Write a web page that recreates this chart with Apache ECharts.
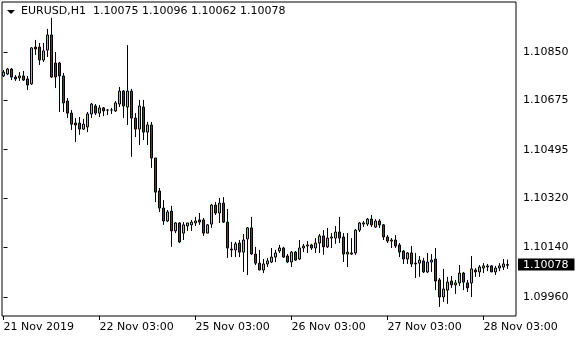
<!DOCTYPE html>
<html><head><meta charset="utf-8">
<script src="https://cdn.jsdelivr.net/npm/echarts@6/dist/echarts.min.js"></script>
<style>html,body{margin:0;padding:0;background:#fff}#c{width:580px;height:340px}</style>
</head><body><div id="c"></div>
<script>
const symbolName = 'EURUSD,H1';
const lastOHLC = ['1.10075', '1.10096', '1.10062', '1.10078'];
const lastPrice = 1.10078;

const opens = [1.10763,1.10770,1.10788,1.10759,1.10756,1.10763,1.10752,1.10734,1.10868,1.10868,
1.10821,1.10857,1.10912,1.10810,1.10810,1.10763,1.10672,1.10628,1.10592,1.10592,
1.10570,1.10578,1.10625,1.10654,1.10628,1.10647,1.10639,1.10639,1.10636,1.10661,
1.10708,1.10650,1.10708,1.10610,1.10570,1.10650,1.10559,1.10585,1.10465,1.10345,
1.10283,1.10236,1.10272,1.10200,1.10229,1.10192,1.10218,1.10222,1.10229,1.10240,
1.10240,1.10192,1.10225,1.10294,1.10265,1.10301,1.10232,1.10134,1.10131,1.10156,
1.10123,1.10171,1.10211,1.10116,1.10083,1.10058,1.10080,1.10087,1.10105,1.10127,
1.10138,1.10109,1.10087,1.10123,1.10098,1.10138,1.10145,1.10149,1.10138,1.10156,
1.10182,1.10142,1.10174,1.10174,1.10196,1.10178,1.10116,1.10116,1.10120,1.10203,
1.10225,1.10225,1.10243,1.10214,1.10236,1.10222,1.10178,1.10163,1.10167,1.10149,
1.10127,1.10098,1.10120,1.10083,1.10083,1.10091,1.10051,1.10087,1.10098,1.10022,
1.09960,1.09985,1.10018,1.10004,1.10011,1.10047,1.10011,1.10011,1.10058,1.10051,
1.10065,1.10069,1.10073,1.10051,1.10065,1.10069,1.10075];
const closes = [1.10777,1.10788,1.10759,1.10752,1.10763,1.10748,1.10730,1.10865,1.10861,1.10821,
1.10854,1.10912,1.10759,1.10759,1.10763,1.10665,1.10628,1.10588,1.10585,1.10570,
1.10588,1.10625,1.10661,1.10628,1.10647,1.10636,1.10639,1.10639,1.10665,1.10708,
1.10654,1.10708,1.10610,1.10570,1.10654,1.10559,1.10585,1.10465,1.10341,1.10283,
1.10236,1.10269,1.10200,1.10229,1.10160,1.10222,1.10229,1.10232,1.10236,1.10232,
1.10192,1.10222,1.10294,1.10265,1.10301,1.10232,1.10138,1.10131,1.10153,1.10123,
1.10167,1.10211,1.10116,1.10083,1.10058,1.10080,1.10091,1.10105,1.10120,1.10138,
1.10105,1.10087,1.10123,1.10094,1.10138,1.10145,1.10149,1.10138,1.10156,1.10182,
1.10142,1.10174,1.10178,1.10196,1.10174,1.10116,1.10123,1.10120,1.10203,1.10229,
1.10229,1.10243,1.10222,1.10236,1.10222,1.10178,1.10163,1.10167,1.10145,1.10123,
1.10098,1.10120,1.10080,1.10080,1.10094,1.10051,1.10087,1.10094,1.10018,1.09960,
1.09989,1.10014,1.10004,1.10011,1.10047,1.10014,1.09993,1.10062,1.10051,1.10069,
1.10073,1.10073,1.10051,1.10065,1.10073,1.10080,1.10078];
const highs = [1.10785,1.10792,1.10792,1.10766,1.10777,1.10781,1.10763,1.10868,1.10894,1.10883,
1.10883,1.10934,1.10974,1.10850,1.10814,1.10774,1.10683,1.10639,1.10610,1.10614,
1.10607,1.10632,1.10665,1.10661,1.10657,1.10650,1.10643,1.10647,1.10672,1.10723,
1.10712,1.10875,1.10716,1.10628,1.10676,1.10676,1.10596,1.10596,1.10465,1.10356,
1.10312,1.10276,1.10291,1.10232,1.10232,1.10232,1.10229,1.10240,1.10251,1.10265,
1.10247,1.10225,1.10298,1.10305,1.10320,1.10323,1.10280,1.10160,1.10160,1.10167,
1.10189,1.10214,1.10251,1.10142,1.10131,1.10098,1.10102,1.10138,1.10131,1.10149,
1.10142,1.10116,1.10127,1.10127,1.10167,1.10153,1.10163,1.10153,1.10174,1.10189,
1.10203,1.10211,1.10192,1.10218,1.10251,1.10192,1.10192,1.10174,1.10207,1.10232,
1.10236,1.10247,1.10258,1.10243,1.10243,1.10225,1.10185,1.10174,1.10185,1.10156,
1.10131,1.10123,1.10145,1.10120,1.10109,1.10102,1.10120,1.10116,1.10138,1.10029,
1.10062,1.10033,1.10036,1.10022,1.10076,1.10051,1.10022,1.10109,1.10065,1.10076,
1.10083,1.10080,1.10076,1.10073,1.10083,1.10098,1.10096];
const lows = [1.10759,1.10766,1.10748,1.10745,1.10745,1.10745,1.10712,1.10730,1.10839,1.10803,
1.10814,1.10832,1.10756,1.10719,1.10632,1.10632,1.10610,1.10567,1.10523,1.10549,
1.10567,1.10559,1.10610,1.10621,1.10614,1.10617,1.10621,1.10625,1.10632,1.10650,
1.10610,1.10585,1.10469,1.10541,1.10512,1.10530,1.10512,1.10429,1.10305,1.10269,
1.10222,1.10232,1.10142,1.10192,1.10156,1.10167,1.10200,1.10200,1.10218,1.10222,
1.10182,1.10192,1.10211,1.10258,1.10229,1.10229,1.10102,1.10105,1.10105,1.10105,
1.10051,1.10040,1.10113,1.10076,1.10058,1.10047,1.10069,1.10083,1.10087,1.10120,
1.10102,1.10083,1.10069,1.10091,1.10094,1.10123,1.10120,1.10131,1.10120,1.10120,
1.10113,1.10138,1.10138,1.10153,1.10156,1.10087,1.10069,1.10113,1.10113,1.10196,
1.10214,1.10218,1.10214,1.10211,1.10211,1.10167,1.10156,1.10138,1.10138,1.10105,
1.10080,1.10080,1.10069,1.10029,1.10033,1.10047,1.10047,1.10051,1.09985,1.09924,
1.09942,1.09935,1.09993,1.09971,1.10000,1.09985,1.09978,1.09960,1.10033,1.10033,
1.10047,1.10054,1.10051,1.10040,1.10054,1.10058,1.10062];

const xTickIndex = [0, 24, 48, 72, 96, 120];
const xTickLabels = ['21 Nov 2019', '22 Nov 03:00', '25 Nov 03:00', '26 Nov 03:00', '27 Nov 03:00', '28 Nov 03:00'];
const yTicks = [1.09960, 1.10140, 1.10320, 1.10495, 1.10675, 1.10850];

const candles = opens.map((o, i) => [i, o, closes[i], lows[i], highs[i]]);
const FONT = 'DejaVu Sans';

const chart = echarts.init(document.getElementById('c'), null, {renderer: 'canvas'});
chart.setOption({
  animation: false,
  backgroundColor: '#fff',
  textStyle: {fontFamily: FONT},
  grid: {left: 2, top: 2, width: 514, height: 314, show: true, borderColor: '#000', borderWidth: 1, backgroundColor: '#fff'},
  xAxis: {
    type: 'value', min: -0.375, max: 128.125,
    splitLine: {show: false}, axisLine: {show: false},
    axisTick: {show: true, customValues: xTickIndex, length: 4, lineStyle: {color: '#000'}},
    axisLabel: {customValues: xTickIndex, align: 'left', margin: 6, color: '#000', fontSize: 11, fontFamily: FONT,
      formatter: v => xTickLabels[xTickIndex.indexOf(Math.round(v))]}
  },
  yAxis: {
    type: 'value', position: 'right', min: 1.098909, max: 1.110317, scale: true,
    splitLine: {show: false}, axisLine: {show: false},
    axisTick: {show: true, customValues: yTicks, length: 4, lineStyle: {color: '#000'}},
    axisLabel: {customValues: yTicks.concat([lastPrice]), margin: 2, color: '#000', fontSize: 11, fontFamily: FONT,
      formatter: v => Math.abs(v - lastPrice) < 1e-7 ? '{cur|' + v.toFixed(5) + '}' : '{n|' + v.toFixed(5) + '}',
      rich: {
        n: {color: '#000', padding: [0, 0, 0, 5], fontSize: 11, fontFamily: FONT},
        cur: {color: '#fff', backgroundColor: '#000', padding: [1, 6, 0, 5], lineHeight: 11, fontSize: 11, fontFamily: FONT}
      }}
  },
  series: [{
    type: 'candlestick',
    data: candles,
    encode: {x: 0, y: [1, 2, 3, 4]},
    barWidth: 2,
    itemStyle: {color: '#80E800', color0: '#E00000', borderColor: '#000', borderColor0: '#000', borderColorDoji: '#000', borderWidth: 1}
  }],
  graphic: [
    {type: 'polygon', shape: {points: [[7, 10], [15, 10], [11, 14]]}, style: {fill: '#000'}},
    {type: 'text', left: 21, top: 6, style: {text: symbolName, font: '11px "DejaVu Sans"', fill: '#000'}},
    {type: 'text', left: 93, top: 6, style: {text: lastOHLC.join(' '), font: '11px "DejaVu Sans"', fill: '#000'}}
  ]
});
</script></body></html>
